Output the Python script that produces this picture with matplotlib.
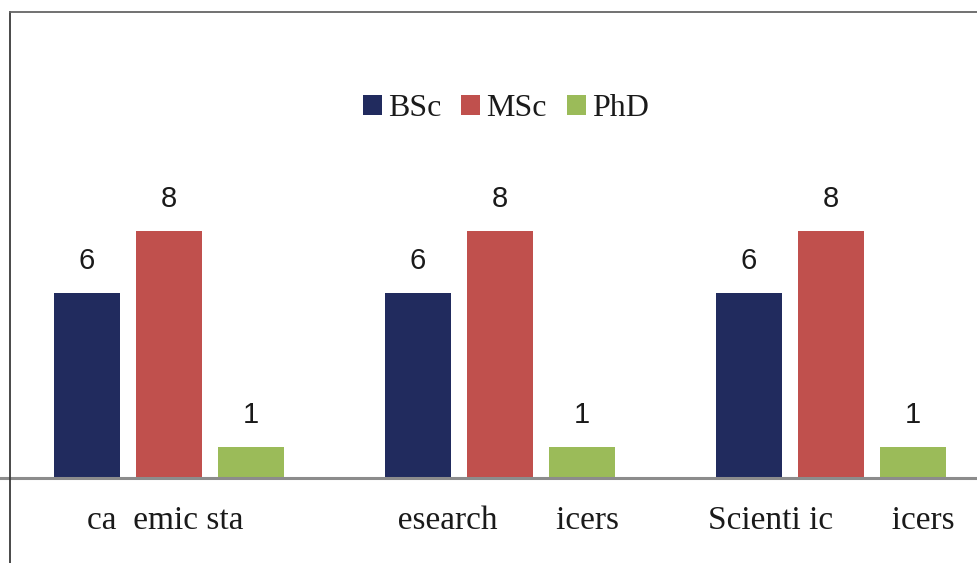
import matplotlib.pyplot as plt
import numpy as np
from matplotlib.lines import Line2D

categories = ['ca  emic sta ', '  esearch       icers', 'Scienti ic       icers']
series = ['BSc', 'MSc', 'PhD']
bsc = [6, 6, 6]
msc = [8, 8, 8]
phd = [1, 1, 1]
colors = ['#212B5E', '#C0504D', '#9BBB59']

W, H = 978, 563
fig = plt.figure(figsize=(W / 100, H / 100), dpi=100)

# axes box: full width, bottom at the baseline, top at the chart border
base_px = 478
top_px = 12
ax = fig.add_axes([0, (H - base_px) / H, 1, (base_px - top_px) / H])

x = np.arange(len(categories))
width = 0.2
step = 0.248
for i, (vals, name, col) in enumerate(zip([bsc, msc, phd], series, colors)):
    bars = ax.bar(x + (i - 1) * step, vals, width, color=col, label=name, zorder=2)
    for b, v in zip(bars, vals):
        ax.annotate(str(v), (b.get_x() + b.get_width() / 2, v),
                    xytext=(0, 13), textcoords='offset points',
                    ha='center', va='bottom', fontsize=21,
                    family='Liberation Sans', color='#1a1a1a')

unit_px = (base_px - 293) / 6
ax.set_xlim(-169 / 331, (W - 169) / 331)
ax.set_ylim(0, (base_px - top_px) / unit_px)
ax.set_yticks([])
ax.set_xticks(x)
ax.set_xticklabels(categories, family='Liberation Serif', fontsize=24, color='#1a1a1a')
ax.tick_params(axis='x', length=0, pad=20)
for s in ax.spines.values():
    s.set_visible(False)
ax.axhline(0, color='#8c8c8c', lw=2.2, zorder=3, clip_on=False)
ax.patch.set_alpha(0)

# chart border (cropped on right and bottom)
fig.add_artist(Line2D([10 / W, 10 / W], [0, (H - top_px) / H], color='#3a3a3a', lw=1.3))
fig.add_artist(Line2D([10 / W, 1], [(H - top_px) / H, (H - top_px) / H], color='#666666', lw=1.3))

leg = fig.legend(loc='center', bbox_to_anchor=(506 / W, (H - 109) / H), ncol=3,
                 frameon=False, prop={'family': 'Liberation Serif', 'size': 23},
                 handlelength=0.59, handleheight=0.59, handletextpad=0.2,
                 columnspacing=0.62)
for t in leg.get_texts():
    t.set_color('#1a1a1a')

fig.savefig('out.png', dpi=100)
